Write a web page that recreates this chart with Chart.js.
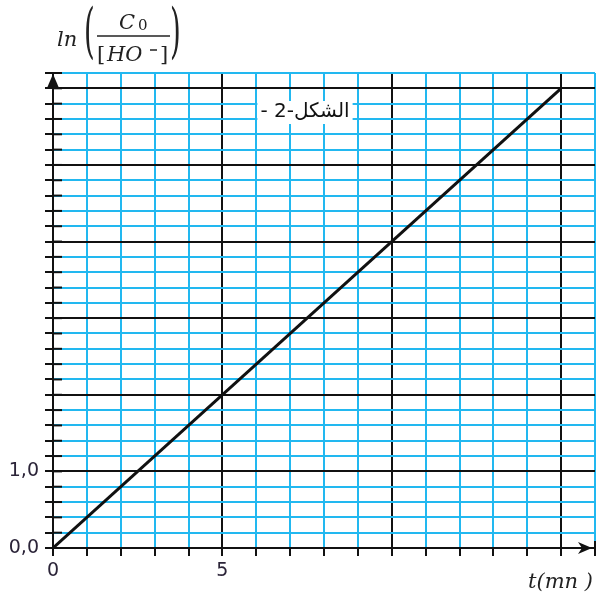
<!DOCTYPE html>
<html><head><meta charset="utf-8">
<script src="https://cdn.jsdelivr.net/npm/chart.js@4/dist/chart.umd.min.js"></script>
<style>html,body{margin:0;padding:0;background:#fff;}#wrap{width:603px;height:595px;position:relative;}</style>
</head><body><div id="wrap"><canvas id="c" width="603" height="595"></canvas></div>
<script>
// data
const tValues = [0, 15];            // t (mn)
const lnValues = [0, 6];            // ln(C0/[HO-])
const xTickLabels = {0: '0', 5: '5'};
const yTickLabels = {0: '0,0', 1: '1,0'};
const figureLabel = 'الشكل-2 -';
const xTitle = 't(mn )';

const BLUE = '#22b8f0';
const BLACK = '#111';
const LABEL = '#2b2438';
const isInt = v => Math.abs(v - Math.round(v)) < 1e-6;

const overlay = {
  id: 'overlay',
  afterDraw(chart) {
    const ctx = chart.ctx, x = chart.scales.x, y = chart.scales.y;
    const x0 = x.getPixelForValue(0), y0 = y.getPixelForValue(0);
    ctx.save();
    // inner part of y ticks
    ctx.strokeStyle = BLACK; ctx.lineWidth = 2;
    y.ticks.forEach(t => {
      const py = y.getPixelForValue(t.value);
      ctx.beginPath(); ctx.moveTo(x0, py); ctx.lineTo(x0 + 9, py); ctx.stroke();
    });
    // axis arrows
    ctx.fillStyle = BLACK;
    const yTop = chart.chartArea.top;
    ctx.beginPath(); ctx.moveTo(x0, yTop + 1); ctx.lineTo(x0 - 6, yTop + 15); ctx.lineTo(x0 + 6, yTop + 15); ctx.closePath(); ctx.fill();
    const xr = chart.chartArea.right;
    ctx.beginPath(); ctx.moveTo(xr - 3, y0); ctx.lineTo(xr - 17, y0 - 6); ctx.lineTo(xr - 13, y0); ctx.lineTo(xr - 17, y0 + 6); ctx.closePath(); ctx.fill();
    ctx.beginPath(); ctx.moveTo(xr, y0 - 7); ctx.lineTo(xr, y0 + 8); ctx.stroke();
    // figure label
    ctx.font = '20px "DejaVu Sans"';
    ctx.direction = 'rtl';
    ctx.textAlign = 'center'; ctx.textBaseline = 'middle';
    const w = ctx.measureText(figureLabel).width;
    const cx = 305, cy = 112;
    ctx.fillStyle = '#fff';
    ctx.fillRect(cx - w / 2 - 3, cy - 11, w + 6, 23);
    ctx.fillStyle = BLACK;
    ctx.fillText(figureLabel, cx, cy);
    ctx.direction = 'ltr';
    // y title: ln( C0 / [HO-] )
    ctx.fillStyle = '#222'; ctx.strokeStyle = '#222';
    ctx.textAlign = 'left'; ctx.textBaseline = 'alphabetic';
    ctx.font = 'italic 21px "DejaVu Serif"';
    ctx.fillText('ln', 57, 46);
    ctx.font = '46px "DejaVu Serif"';
    ctx.save(); ctx.scale(0.6, 1.3); ctx.fillText('(', 84 / 0.6, 51 / 1.3); ctx.fillText(')', 170 / 0.6, 51 / 1.3); ctx.restore();
    ctx.font = 'italic 21px "DejaVu Serif"';
    ctx.fillText('C', 119, 29);
    ctx.font = '15px "DejaVu Serif"';
    ctx.fillText('0', 138, 30);
    ctx.lineWidth = 1.5;
    ctx.beginPath(); ctx.moveTo(97, 36); ctx.lineTo(170, 36); ctx.stroke();
    ctx.font = '21px "DejaVu Serif"';
    ctx.fillText('[', 97, 61);
    ctx.fillText(']', 160, 61);
    ctx.font = 'italic 21px "DejaVu Serif"';
    ctx.fillText('HO', 107, 61);
    ctx.lineWidth = 1.5;
    ctx.beginPath(); ctx.moveTo(150, 50); ctx.lineTo(157, 50); ctx.stroke();
    // x title
    ctx.font = 'italic 21px "DejaVu Serif"';
    ctx.fillText(xTitle, 528, 588);
    ctx.restore();
  }
};

new Chart(document.getElementById('c'), {
  type: 'line',
  data: {
    datasets: [{
      data: tValues.map((t, i) => ({x: t, y: lnValues[i]})),
      borderColor: BLACK, borderWidth: 3, pointRadius: 0, tension: 0, fill: false
    }]
  },
  options: {
    responsive: false, animation: false, devicePixelRatio: 1,
    layout: {padding: {top: 73, right: 8, left: 0, bottom: 0}},
    plugins: {legend: {display: false}, tooltip: {enabled: false}},
    scales: {
      x: {
        type: 'linear', min: 0, max: 16,
        afterFit: s => { s.height = 47; },
        ticks: {stepSize: 1, autoSkip: false, maxRotation: 0, padding: 4,
          color: LABEL, font: {family: 'DejaVu Sans', size: 19},
          callback: v => xTickLabels[v] !== undefined ? xTickLabels[v] : ''},
        grid: {color: c => (c.tick && isInt(c.tick.value / 5)) ? BLACK : BLUE,
          lineWidth: 2, tickColor: BLACK, tickLength: 8, drawTicks: true},
        border: {color: BLACK, width: 2}
      },
      y: {
        type: 'linear', min: 0, max: 6.2,
        afterFit: s => { s.width = 53; },
        ticks: {stepSize: 0.2, autoSkip: false, padding: 6,
          color: LABEL, font: {family: 'DejaVu Sans', size: 19},
          callback: v => { const k = Math.round(v * 10) / 10; return yTickLabels[k] !== undefined && isInt(v) ? yTickLabels[k] : ''; }},
        grid: {color: c => (c.tick && isInt(c.tick.value)) ? BLACK : BLUE,
          lineWidth: 2, tickColor: BLACK, tickLength: 8, drawTicks: true},
        border: {color: BLACK, width: 2}
      }
    }
  },
  plugins: [overlay]
});
</script></body></html>
